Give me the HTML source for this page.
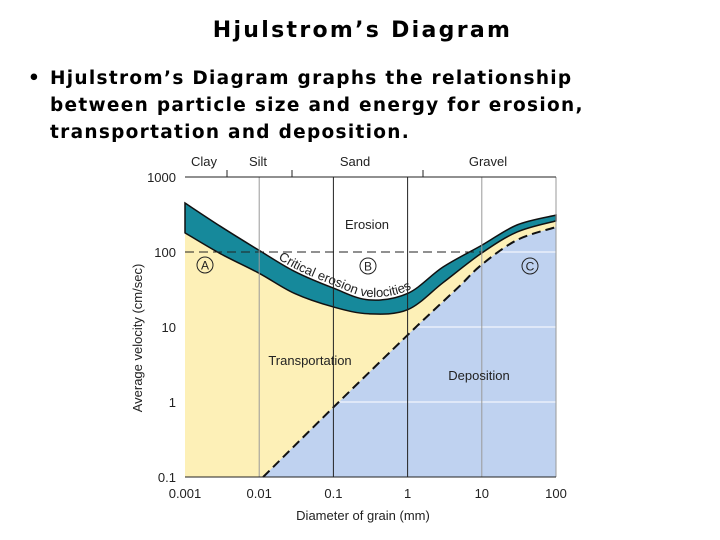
<!DOCTYPE html>
<html><head><meta charset="utf-8"><style>
body{margin:0;background:#fff;width:720px;height:540px;overflow:hidden;font-family:"DejaVu Sans","Liberation Sans",sans-serif}
.t{position:absolute;font-weight:bold;color:#000}
</style></head><body>
<div class="t" style="left:0;width:725px;text-align:center;top:18px;font-size:22px;letter-spacing:2.3px">Hjulstrom’s Diagram</div>
<div class="t" style="left:28px;top:65px;font-size:18.5px;line-height:27px;width:700px;letter-spacing:1.3px">
<span style="position:absolute;left:0">•</span><div style="padding-left:22px">Hjulstrom’s Diagram graphs the relationship<br>between particle size and energy for erosion,<br>transportation and deposition.</div></div>
<svg id="c" width="720" height="540" style="position:absolute;left:0;top:0" font-family="Liberation Sans, sans-serif"></svg>
<script>
const upperD=[0.001,0.003,0.01,0.03,0.1,0.3,1,3,10,30,100];
const upperV=[450,220,105,55,33,23,28,63,123,230,310];
const lowerD=[0.001,0.003,0.01,0.03,0.1,0.3,1,3,10,30,100];
const lowerV=[180,95,52,28,18.5,15,17,39,97,185,260];
const depD=[0.0113,0.1,1,2,5,10,30,100];
const depV=[0.1,0.85,7.8,15,35,68,145,215];
const xTicks=["0.001","0.01","0.1","1","10","100"];
const yTicks=["0.1","1","10","100","1000"];
const NS="http://www.w3.org/2000/svg";
const svg=document.getElementById('c');
const X=d=>185+(Math.log10(d)+3)*74.2;
const Y=v=>477-(Math.log10(v)+1)*75;
function el(t,a,p){const e=document.createElementNS(NS,t);for(const k in a)e.setAttribute(k,a[k]);(p||svg).appendChild(e);return e;}
function smooth(ds,vs,off){off=off||0;const p=ds.map((d,i)=>[X(d),Y(vs[i])+off]);let s="M"+p[0][0]+","+p[0][1];
for(let i=0;i<p.length-1;i++){const p0=p[i-1]||p[i],p1=p[i],p2=p[i+1],p3=p[i+2]||p2;
s+=` C${p1[0]+(p2[0]-p0[0])/6},${p1[1]+(p2[1]-p0[1])/6} ${p2[0]-(p3[0]-p1[0])/6},${p2[1]-(p3[1]-p1[1])/6} ${p2[0]},${p2[1]}`;}return s;}
function rev(ds,vs){return smooth(ds.slice().reverse(),vs.slice().reverse()).replace(/^M/,"L");}
const L=X(0.001),R=X(100),T=Y(1000),B=Y(0.1);
let e=el('rect',{x:L,y:T,width:R-L,height:B-T,fill:'#fdf0b7'});
e=el('path',{d:`M${L},${T} L${L},${Y(lowerV[0])} `+smooth(lowerD,lowerV).replace(/^M[^C]*/,"")+` L${R},${T}Z`,fill:'#fff'});

const depPath=smooth(depD,depV);
e=el('path',{d:depPath+` L${R},${B} L${X(depD[0])},${B}Z`,fill:'#bfd2f0'});

const cp=el('clipPath',{id:'cb'});el('path',{d:depPath+` L${R},${B} L${X(depD[0])},${B}Z`},cp);
[1,10,100].forEach(v=>{const g=el('line',{x1:L,x2:R,y1:Y(v),y2:Y(v),stroke:'#fff','stroke-width':1,'clip-path':'url(#cb)'});});
e=el('path',{d:smooth(upperD,upperV)+" "+rev(lowerD,lowerV)+"Z",fill:'#16899b',stroke:'#111','stroke-width':1.5});

e=el('path',{d:depPath,fill:'none',stroke:'#111','stroke-width':2,'stroke-dasharray':'9,5'});

e=el('line',{x1:L,x2:X(10),y1:Y(100),y2:Y(100),stroke:'#222','stroke-dasharray':'9,5','stroke-width':1});

[0.01,0.1,1,10,100].forEach(d=>{const dark=(d==0.1||d==1);const g=el('line',{x1:X(d),x2:X(d),y1:T,y2:B,stroke:dark?'#222':'#999','stroke-width':1});});
el('line',{x1:L,x2:R,y1:T,y2:T,stroke:'#222'});
el('line',{x1:L,x2:R,y1:B,y2:B,stroke:'#222'});
[227,292,423].forEach(x=>{const g=el('line',{x1:x,x2:x,y1:T,y2:T-7,stroke:'#222'});});
function txt(s,x,y,a,sz,extra){const t=el('text',Object.assign({x:x,y:y,'text-anchor':a||'middle','font-size':sz||13,fill:'#222'},extra||{}));t.textContent=s;return t;}
[["Clay",204],["Silt",258],["Sand",355],["Gravel",488]].forEach(c=>{const t=txt(c[0],c[1],166);});
xTicks.forEach((s,i)=>{const t=txt(s,X(Math.pow(10,i-3)),498);});
yTicks.forEach((s,i)=>{const t=txt(s,176,Y(Math.pow(10,i-1))+5,'end');});
let t=txt("Diameter of grain (mm)",363,520);
t=txt("Average velocity (cm/sec)",0,0,'middle',13,{transform:'translate(142,338) rotate(-90)'});
t=txt("Erosion",367,229);
t=txt("Transportation",310,365);
t=txt("Deposition",479,380);
[["A",205,265],["B",368,266],["C",530,266]].forEach(c=>{el('circle',{cx:c[1],cy:c[2],r:8,fill:'none',stroke:'#222','stroke-width':1});const q=txt(c[0],c[1],c[2]+4.5,'middle',12);});
el('path',{id:'tp',d:smooth(upperD.slice(2,8),upperV.slice(2,8),-3),fill:'none'});
t=el('text',{'font-size':13,fill:'#222'});
const tp=el('textPath',{href:'#tp',startOffset:'22'},t);tp.textContent="Critical erosion velocities";
</script>
</body></html>
